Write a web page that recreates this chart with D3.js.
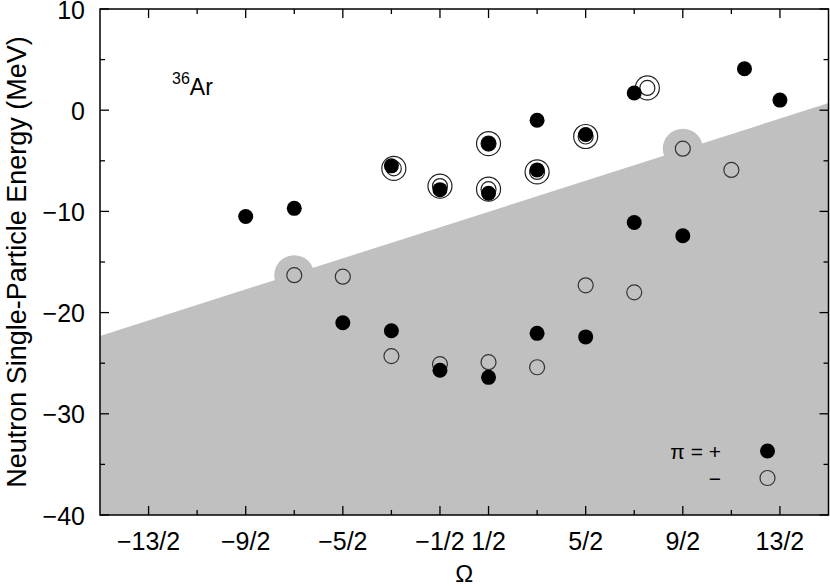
<!DOCTYPE html>
<html><head><meta charset="utf-8">
<script src="https://cdn.jsdelivr.net/npm/d3@7"></script>
<style>
html,body{margin:0;padding:0;background:#fff;}
text{font-family:"Liberation Sans",Arial,Helvetica,sans-serif;fill:#000;}
</style></head>
<body>
<svg id="chart" width="830" height="586"></svg>
<script>
// ---- data ----
const xMajorTicks = [-6.5, -4.5, -2.5, -0.5, 0.5, 2.5, 4.5, 6.5];
const xMajorLabels = ["\u221213/2", "\u22129/2", "\u22125/2", "\u22121/2", "1/2", "5/2", "9/2", "13/2"];
const xMinorTicks = [-5.5, -3.5, -1.5, 1.5, 3.5, 5.5];
const yMajorTicks = [10, 0, -10, -20, -30, -40];
const yMinorTicks = [5, -5, -15, -25, -35];

// pi = + (filled)
const plusOmega = [-4.5, -3.5, -2.5, -1.5, -1.5, -0.5, -0.5, 0.5, 0.5, 0.5, 1.5, 1.5, 1.5, 2.5, 2.5, 3.5, 3.5, 4.5, 5.77, 6.5];
const plusE     = [-10.5, -9.7, -21.0, -21.8, -5.5, -25.7, -7.85, -26.4, -3.3, -8.2, -22.05, -1.0, -5.9, -22.4, -2.4, 1.7, -11.1, -12.4, 4.1, 1.0];

// pi = - (open)
const minusOmega = [-3.5, -2.5, -1.5, -0.5, 0.5, 1.5, 2.5, 3.5, 4.5, 5.5];
const minusE     = [-16.3, -16.45, -24.3, -25.1, -24.9, -25.4, -17.3, -18.0, -3.8, -5.9];

// pi = - states drawn with an extra outer ring
const ringOmega = [-1.45, -0.5, 0.5, 0.5, 1.5, 2.5, 3.77];
const ringE     = [-5.75, -7.5, -3.3, -7.8, -6.1, -2.6, 2.2];

// shaded region boundary and highlighted states
const shadeOmega = [-7.5, 7.5];
const shadeE     = [-22.3, 0.7];
const bumpOmega  = [-3.5, 4.5];
const bumpE      = [-16.3, -3.8];

// ---- layout ----
const svg = d3.select("#chart");
const L = 100, R = 828.5, T = 9, B = 515;
const x = d3.scaleLinear().domain([-7.5, 7.5]).range([L, R]);
const y = d3.scaleLinear().domain([-40, 10]).range([B, T]);
const gray = "#c0c0c0";

svg.append("defs").append("clipPath").attr("id", "plotclip")
  .append("rect").attr("x", L).attr("y", T).attr("width", R - L).attr("height", B - T);

const plot = svg.append("g").attr("clip-path", "url(#plotclip)");

// shaded area below line
const poly = [
  [x(shadeOmega[0]), y(shadeE[0])],
  [x(shadeOmega[1]), y(shadeE[1])],
  [x(shadeOmega[1]), y(-40)],
  [x(shadeOmega[0]), y(-40)]
];
plot.append("path").attr("d", d3.line()(poly) + "Z").attr("fill", gray);
plot.selectAll("circle.bump").data(d3.range(bumpOmega.length)).join("circle")
  .attr("class", "bump")
  .attr("cx", i => x(bumpOmega[i])).attr("cy", i => y(bumpE[i]))
  .attr("r", 20).attr("fill", gray);

// axes (frame with inward ticks)
const axG = svg.append("g");
const majLen = 9, minLen = 5;
function tickLines(vals, len, isX) {
  vals.forEach(v => {
    if (isX) {
      axG.append("line").attr("x1", x(v)).attr("x2", x(v)).attr("y1", B).attr("y2", B - len);
      axG.append("line").attr("x1", x(v)).attr("x2", x(v)).attr("y1", T).attr("y2", T + len);
    } else {
      axG.append("line").attr("y1", y(v)).attr("y2", y(v)).attr("x1", L).attr("x2", L + len);
      axG.append("line").attr("y1", y(v)).attr("y2", y(v)).attr("x1", R).attr("x2", R - len);
    }
  });
}
tickLines(xMajorTicks, majLen, true);
tickLines(xMinorTicks, minLen, true);
tickLines(yMajorTicks, majLen, false);
tickLines(yMinorTicks, minLen, false);
axG.selectAll("line").attr("stroke", "#000").attr("stroke-width", 1.3);
axG.append("rect").attr("x", L).attr("y", T).attr("width", R - L).attr("height", B - T)
  .attr("fill", "none").attr("stroke", "#000").attr("stroke-width", 1.5);

// tick labels
svg.selectAll("text.xl").data(xMajorTicks).join("text").attr("class", "xl")
  .attr("x", d => x(d)).attr("y", 550).attr("text-anchor", "middle")
  .attr("font-size", 25).text((d, i) => xMajorLabels[i]);
svg.selectAll("text.yl").data(yMajorTicks).join("text").attr("class", "yl")
  .attr("x", 85).attr("y", d => y(d) + 9.5).attr("text-anchor", "end")
  .attr("font-size", 25).text(d => d < 0 ? "\u2212" + Math.abs(d) : String(d));

// axis titles
svg.append("text").attr("x", (L + R) / 2).attr("y", 582).attr("text-anchor", "middle")
  .attr("font-size", 24).text("\u03A9");
svg.append("text").attr("transform", `translate(26,${(T + B) / 2}) rotate(-90)`)
  .attr("text-anchor", "middle").attr("font-size", 27)
  .text("Neutron Single-Particle Energy (MeV)");

// nucleus label
const lab = svg.append("text").attr("x", 172).attr("y", 95);
lab.append("tspan").attr("font-size", 16).attr("dy", -11).text("36");
lab.append("tspan").attr("font-size", 23).attr("dy", 11).text("Ar");

// points
const pts = svg.append("g");
pts.selectAll("circle.ring").data(d3.range(ringOmega.length)).join("circle")
  .attr("class", "ring")
  .attr("cx", i => x(ringOmega[i])).attr("cy", i => y(ringE[i]))
  .attr("r", 12).attr("fill", "none").attr("stroke", "#222").attr("stroke-width", 1.2);
pts.selectAll("circle.ringin").data(d3.range(ringOmega.length)).join("circle")
  .attr("class", "ringin")
  .attr("cx", i => x(ringOmega[i])).attr("cy", i => y(ringE[i]))
  .attr("r", 7.5).attr("fill", "none").attr("stroke", "#222").attr("stroke-width", 1.2);
pts.selectAll("circle.minus").data(d3.range(minusOmega.length)).join("circle")
  .attr("class", "minus")
  .attr("cx", i => x(minusOmega[i])).attr("cy", i => y(minusE[i]))
  .attr("r", 7.5).attr("fill", "none").attr("stroke", "#333").attr("stroke-width", 1.2);
pts.selectAll("circle.plus").data(d3.range(plusOmega.length)).join("circle")
  .attr("class", "plus")
  .attr("cx", i => x(plusOmega[i])).attr("cy", i => y(plusE[i]))
  .attr("r", 7.5).attr("fill", "#000");

// legend
svg.append("text").attr("x", 721).attr("y", 459).attr("text-anchor", "end")
  .attr("font-size", 21).text("\u03C0 = +");
svg.append("text").attr("x", 721).attr("y", 486).attr("text-anchor", "end")
  .attr("font-size", 21).text("\u2212");
svg.append("circle").attr("cx", 767.5).attr("cy", 451).attr("r", 7.5).attr("fill", "#000");
svg.append("circle").attr("cx", 767.5).attr("cy", 478).attr("r", 7.5)
  .attr("fill", "none").attr("stroke", "#333").attr("stroke-width", 1.2);
</script>
</body></html>
